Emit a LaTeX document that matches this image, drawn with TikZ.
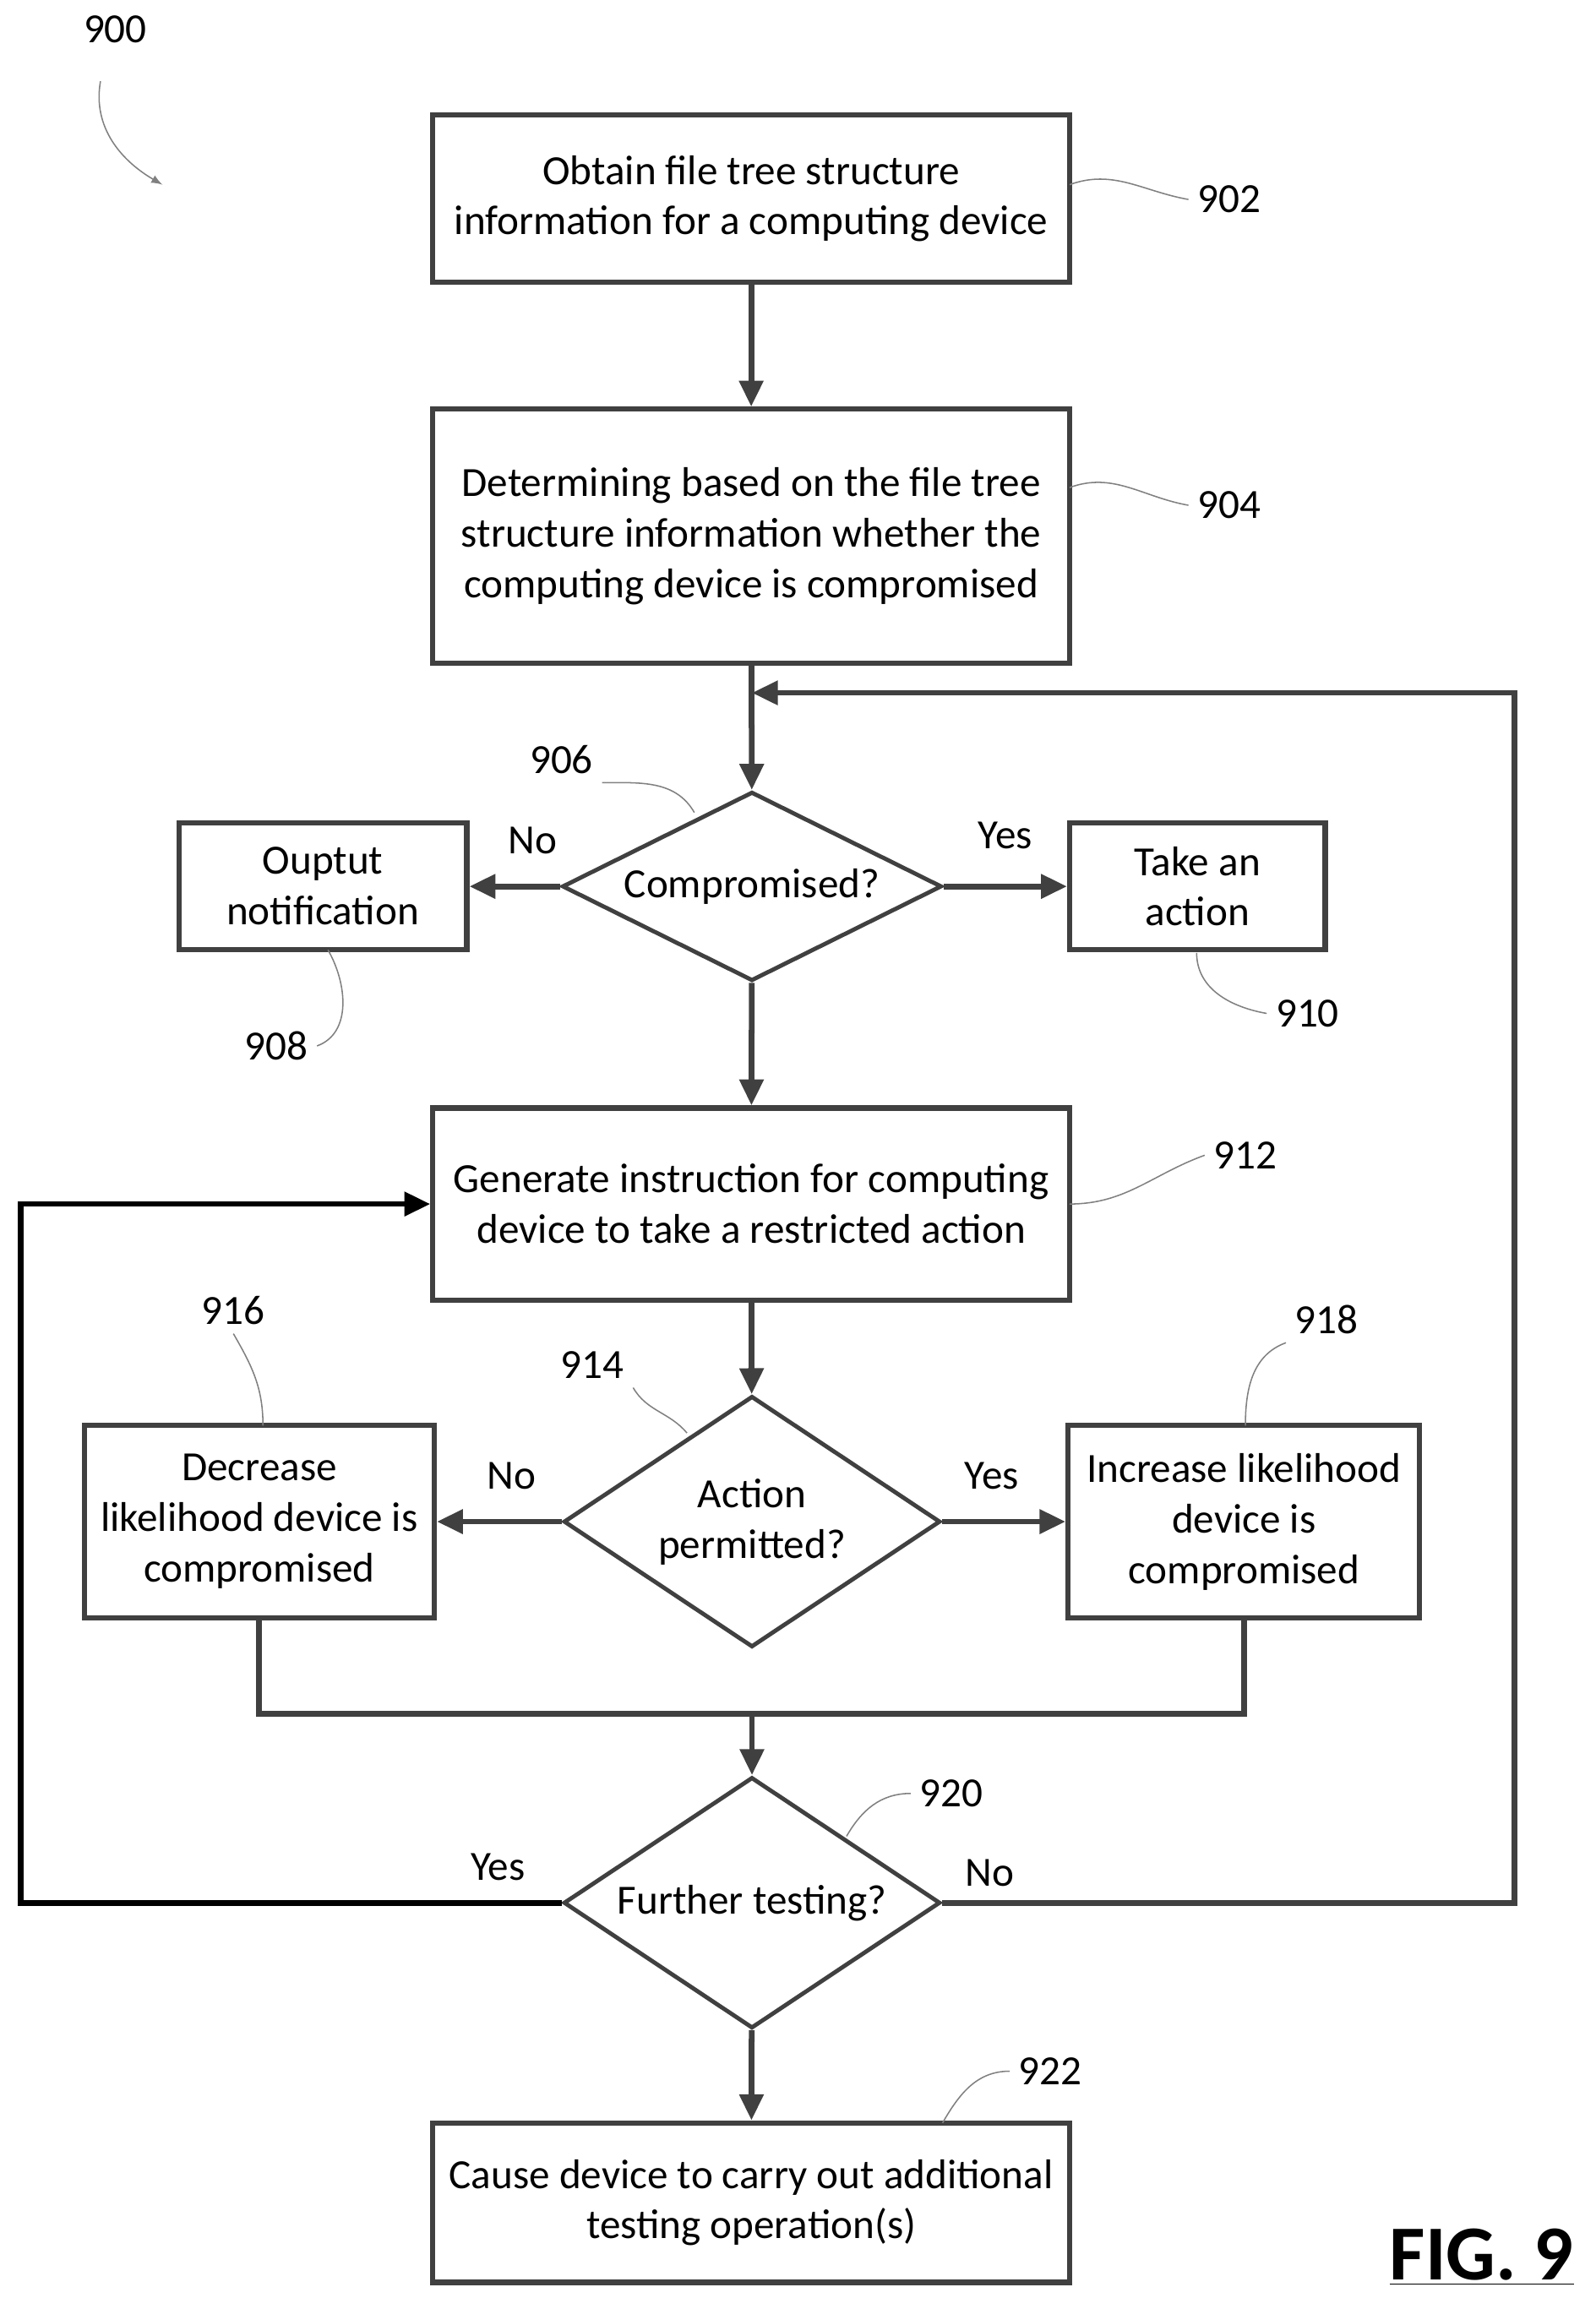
\documentclass[tikz,border=0pt]{standalone}
\usepackage{fontspec}
\setmainfont{Carlito}
\usetikzlibrary{shapes.geometric,arrows.meta}
\definecolor{linegray}{rgb}{0.25,0.25,0.25}
\begin{document}
\begin{tikzpicture}[x=0.02cm,y=-0.02cm,
    font=\fontsize{16}{19.5}\selectfont,
    box/.style={draw=linegray,line width=2pt,align=center,inner sep=2pt},
    dia/.style={draw=linegray,line width=1.6pt,diamond,aspect=2,align=center,inner sep=0pt},
    flow/.style={draw=linegray,line width=2.2pt,-{Triangle[length=10pt,width=9pt]}},
    lead/.style={draw=gray,line width=0.5pt}]
		\tikzset{>=latex}
		\useasboundingbox (0,0) rectangle (1080,1563);
		
		%boxes
		\node[box,minimum width=8.62cm,minimum height=2.26cm] (obtain) at (508.5,134.5) {Obtain file tree structure\\information for a computing device};
		\node[box,minimum width=8.62cm,minimum height=3.44cm] (determine) at (508.5,363) {Determining based on the file tree\\structure information whether the\\computing device is compromised};
		\node[dia,minimum width=5.14cm,minimum height=2.56cm] (comp) at (509,600) {Compromised?};
		\node[box,minimum width=3.9cm,minimum height=1.72cm] (notify) at (218.5,600) {Ouptut\\notification};
		\node[box,minimum width=3.46cm,minimum height=1.72cm] (action) at (810.5,600) {Take an\\action};
		\node[box,minimum width=8.62cm,minimum height=2.6cm] (generate) at (508.5,815) {Generate instruction for computing\\device to take a restricted action};
		\node[dia,minimum width=5.1cm,minimum height=3.4cm] (permit) at (509,1030) {Action\\permitted?};
		\node[box,minimum width=4.74cm,minimum height=2.6cm] (decrease) at (175.5,1030) {Decrease\\likelihood device is\\compromised};
		\node[box,minimum width=4.76cm,minimum height=2.6cm] (increase) at (842,1030) {Increase likelihood\\device is\\compromised};
		\node[dia,minimum width=5.1cm,minimum height=3.4cm] (further) at (509,1288) {Further testing?};
		\node[box,minimum width=8.62cm,minimum height=2.16cm] (cause) at (508.5,1491) {Cause device to carry out additional\\testing operation(s)};
		
		%connectors
		\draw[flow] (obtain) -- (determine);
		\draw[flow] (determine) -- (comp);
		\draw[flow] (comp) -- (notify) node[pos=0.3,above=8pt] {No};
		\draw[flow] (comp) -- (action) node[pos=0.5,above=10pt] {Yes};
		\draw[flow] (comp) -- (generate);
		\draw[flow] (generate) -- (permit);
		\draw[flow] (permit) -- (decrease) node[pos=0.4,above=8pt] {No};
		\draw[flow] (permit) -- (increase) node[pos=0.4,above=8pt] {Yes};
		\coordinate (merge) at (509,1160);
		\draw[draw=linegray,line width=2.2pt] (decrease.south) |- (merge) -| (increase.south);
		\draw[flow] (merge) -- (further);
		\draw[flow] (further) -- (cause);
		\coordinate (rejoin) at (509,469);
		\draw[flow] (further.east) -- (1025,1288) |- (rejoin);
		\draw[flow,draw=black] (further.west) -- (14,1288) |- (generate.west);
		\node at (670,1268) {No};
		\node at (337,1264) {Yes};
		
		%reference numerals
		\node (n900) at (78,20) {900};
		\coordinate (a900) at (110,125);
		\draw[lead,->] (68,55) to[out=-100,in=150] (a900);
		\node (n902) at (832,135) {902};
		\draw[lead] (724,125) to[out=20,in=170] (n902.west);
		\node (n904) at (832,342) {904};
		\draw[lead] (724,330) to[out=20,in=170] (n904.west);
		\node (n906) at (380,514) {906};
		\draw[lead] (n906.south east) to[out=0,in=120] (470,550);
		\node (n908) at (187,708) {908};
		\draw[lead] (222,643) to[out=-60,in=20] (n908.east);
		\node (n910) at (885,686) {910};
		\draw[lead] (810,645) to[out=-90,in=170] (n910.west);
		\node (n912) at (843,782) {912};
		\draw[lead] (724,815) to[out=0,in=200] (n912.west);
		\node (n914) at (401,924) {914};
		\draw[lead] (n914.south east) to[out=-60,in=130] (465,970);
		\node (n916) at (158,887) {916};
		\draw[lead] (n916.south) to[out=-60,in=90] (178,965);
		\node (n918) at (898,893) {918};
		\draw[lead] (n918.south west) to[out=200,in=90] (843,965);
		\node (n920) at (644,1214) {920};
		\draw[lead] (n920.west) to[out=180,in=60] (573,1243);
		\node (n922) at (711,1402) {922};
		\draw[lead] (n922.west) to[out=180,in=60] (638,1437);
		
		\node[font=\fontsize{30}{34}\selectfont\bfseries] (fig) at (1003,1528) {\underline{FIG. 9}};
	\end{tikzpicture}
\end{document}
